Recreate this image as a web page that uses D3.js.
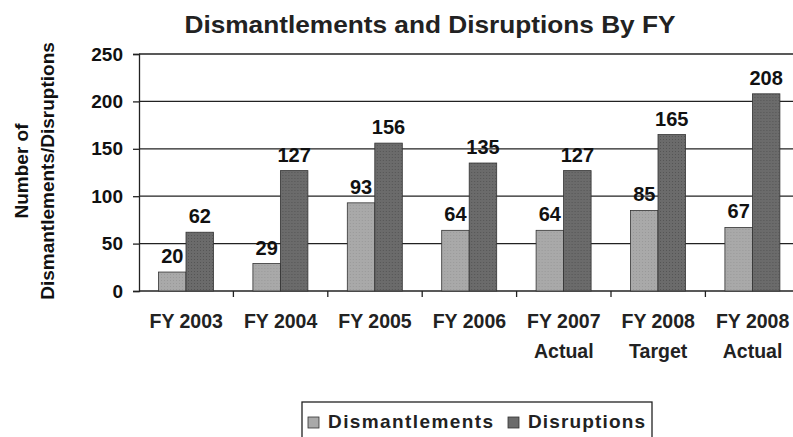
<!DOCTYPE html>
<html>
<head>
<meta charset="utf-8">
<script src="https://cdn.jsdelivr.net/npm/d3@7"></script>
<style>
  body { margin: 0; background: #fff; }
  svg { font-family: "Liberation Sans", Arial, sans-serif; font-weight: bold; }
</style>
</head>
<body>
<div id="chart"></div>
<script>
// data
const categories = [["FY 2003"], ["FY 2004"], ["FY 2005"], ["FY 2006"],
  ["FY 2007", "Actual"], ["FY 2008", "Target"], ["FY 2008", "Actual"]];
const seriesNames = ["Dismantlements", "Disruptions"];
const dismantlements = [20, 29, 93, 64, 64, 85, 67];
const disruptions = [62, 127, 156, 135, 127, 165, 208];
const yTicks = [0, 50, 100, 150, 200, 250];

const width = 793, height = 437;
const colors = { Dismantlements: "#a9a9a9", Disruptions: "#6b6b6b" };

const svg = d3.select("#chart").append("svg")
  .attr("width", width).attr("height", height);

// dotted texture like the scanned bars
const defs = svg.append("defs");
seriesNames.forEach(name => {
  const p = defs.append("pattern")
    .attr("id", "pat-" + name)
    .attr("width", 3).attr("height", 3)
    .attr("patternUnits", "userSpaceOnUse");
  p.append("rect").attr("width", 3).attr("height", 3).attr("fill", colors[name]);
  p.append("rect").attr("x", 1).attr("y", 1).attr("width", 1).attr("height", 1)
    .attr("fill", name === "Disruptions" ? "#555" : "#999");
});

// plot area runs past the right edge, as in the cropped scan
const x0 = d3.scaleBand()
  .domain(d3.range(categories.length))
  .range([139, 139 + 94.4 * categories.length])
  .paddingInner(0).paddingOuter(0);
const x1 = d3.scaleBand().domain(seriesNames).range([19.5, 74.5]);
const y = d3.scaleLinear().domain([0, 250]).range([291, 54]);

// gridlines
svg.append("g").selectAll("line")
  .data(yTicks.filter(d => d > 0))
  .join("line")
  .attr("x1", 139).attr("x2", width)
  .attr("y1", d => y(d)).attr("y2", d => y(d))
  .attr("stroke", "#222").attr("stroke-width", 1.3);

// y axis
const yAxis = svg.append("g")
  .attr("transform", "translate(139,0)")
  .call(d3.axisLeft(y).tickValues(yTicks).tickSize(6).tickPadding(10));
yAxis.select(".domain").attr("stroke", "#222").attr("stroke-width", 1.3);
yAxis.selectAll(".tick line").attr("stroke", "#222").attr("stroke-width", 1.3);
yAxis.selectAll("text").attr("font-size", 19).attr("fill", "#111")
  .attr("font-family", "Liberation Sans, Arial, sans-serif").attr("font-weight", "bold");

// x axis
const xAxisG = svg.append("g").attr("transform", "translate(0,291)");
xAxisG.append("line").attr("x1", 139).attr("x2", width)
  .attr("stroke", "#222").attr("stroke-width", 1.3);
xAxisG.selectAll(".tk").data(d3.range(1, categories.length))
  .join("line").attr("class", "tk")
  .attr("x1", d => x0(d)).attr("x2", d => x0(d))
  .attr("y1", 0).attr("y2", 6)
  .attr("stroke", "#222").attr("stroke-width", 1.3);
const xl = xAxisG.selectAll(".lbl").data(categories)
  .join("text").attr("class", "lbl")
  .attr("text-anchor", "middle")
  .attr("font-size", 19.5).attr("fill", "#222");
xl.selectAll("tspan").data(d => d).join("tspan")
  .attr("x", (d, i, n) => x0(categories.indexOf(d3.select(n[i].parentNode).datum())) + x0.bandwidth() / 2)
  .attr("y", (d, i) => 37 + i * 30)
  .text(d => d);

// bars
const rows = categories.map((c, i) => ({ i, values: [
  { key: "Dismantlements", value: dismantlements[i] },
  { key: "Disruptions", value: disruptions[i] }] }));

const groups = svg.append("g").selectAll("g")
  .data(rows).join("g")
  .attr("transform", d => `translate(${x0(d.i)},0)`);

groups.selectAll("rect")
  .data(d => d.values).join("rect")
  .attr("x", d => x1(d.key))
  .attr("width", x1.bandwidth())
  .attr("y", d => y(d.value))
  .attr("height", d => y(0) - y(d.value))
  .attr("fill", d => `url(#pat-${d.key})`)
  .attr("stroke", "#333").attr("stroke-width", 0.8);

groups.selectAll("text")
  .data(d => d.values).join("text")
  .attr("x", d => x1(d.key) + x1.bandwidth() / 2)
  .attr("y", d => y(d.value) - 9)
  .attr("text-anchor", "middle")
  .attr("font-size", 20).attr("fill", "#111")
  .text(d => d.value);

// title
svg.append("text").attr("x", 430).attr("y", 33)
  .attr("text-anchor", "middle").attr("font-size", 24).attr("fill", "#222")
  .attr("textLength", 491).attr("lengthAdjust", "spacingAndGlyphs")
  .text("Dismantlements and Disruptions By FY");

// y axis title
const yt = svg.append("text")
  .attr("transform", "translate(0,171) rotate(-90)")
  .attr("text-anchor", "middle").attr("font-size", 19).attr("fill", "#111");
yt.append("tspan").attr("x", 0).attr("y", 28).text("Number of");
yt.append("tspan").attr("x", 0).attr("y", 54).text("Dismantlements/Disruptions");

// legend
const lg = svg.append("g");
lg.append("rect").attr("x", 302).attr("y", 402).attr("width", 350).attr("height", 45)
  .attr("fill", "none").attr("stroke", "#222").attr("stroke-width", 1.3);
const legItems = [{ key: "Dismantlements", x: 308, w: 165 }, { key: "Disruptions", x: 508, w: 117 }];
lg.selectAll(".sw").data(legItems).join("rect").attr("class", "sw")
  .attr("x", d => d.x).attr("y", 417).attr("width", 11).attr("height", 11)
  .attr("fill", d => colors[d.key]).attr("stroke", "#333").attr("stroke-width", 0.8);
lg.selectAll(".lt").data(legItems).join("text").attr("class", "lt")
  .attr("x", d => d.x + 20).attr("y", 428)
  .attr("font-size", 19).attr("fill", "#222")
  .attr("textLength", d => d.w).attr("lengthAdjust", "spacing")
  .text(d => d.key);
</script>
</body>
</html>
